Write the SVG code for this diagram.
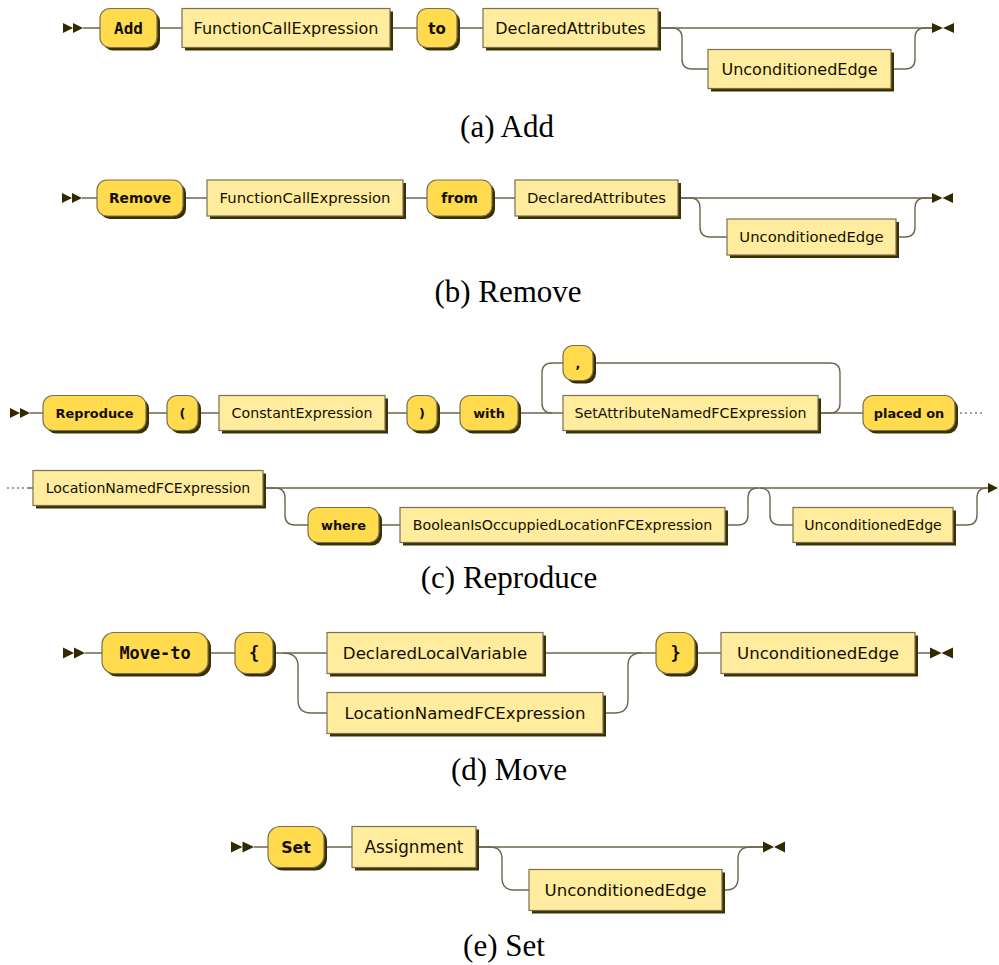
<svg xmlns="http://www.w3.org/2000/svg" width="999" height="965" viewBox="0 0 999 965">
<style>
.bg{fill:#ffffff}
.sh{fill:#3a3000}
.t rect.b{fill:#FFDB4D;stroke:#7a7052;stroke-width:1.2}
.n rect.b{fill:#FFEC9E;stroke:#7a7052;stroke-width:1.2}
text{fill:#141000;text-anchor:middle}
.n text{font-family:"DejaVu Sans",Verdana,sans-serif}
.t text{font-family:"DejaVu Sans",Verdana,sans-serif;font-weight:bold}
.t text.m{font-family:"DejaVu Sans Mono",monospace;font-weight:bold}
#connectors path{fill:none;stroke:#6e6650;stroke-width:1.4}
#connectors path.dot{stroke:#8a8266;stroke-dasharray:2 3}
#connectors polygon{fill:#332900}
.cap{font-family:"Liberation Serif","Times New Roman",serif;font-size:31px;fill:#000}
</style>
<rect class="bg" x="0" y="0" width="999" height="965"/>

<g id="connectors">
  <!-- (a) -->
  <polygon points="63,23 73,28 63,33"/><polygon points="73,23 83,28 73,33"/>
  <path d="M83,28 H100 M157,28 H182 M390,28 H417 M457,28 H483 M658,28 H932"/>
  <path d="M658,28 H672 Q682,28 682,38 V59 Q682,69 692,69 H708"/>
  <path d="M891,69 H905 Q915,69 915,59 V38 Q915,28 925,28 H932"/>
  <polygon points="932,23 943,28 932,33"/><polygon points="954,23 943,28 954,33"/>
  <!-- (b) -->
  <polygon points="62,193 72,198 62,203"/><polygon points="72,193 82,198 72,203"/>
  <path d="M82,198 H97 M183,198 H207 M403,198 H427 M492,198 H515 M678,198 H932"/>
  <path d="M678,198 H690 Q700,198 700,208 V227 Q700,237 710,237 H727"/>
  <path d="M896,237 H905 Q915,237 915,227 V208 Q915,198 925,198 H932"/>
  <polygon points="932,193 942.5,198 932,203"/><polygon points="953,193 942.5,198 953,203"/>
  <!-- (c) row 1 -->
  <polygon points="10,408 20,413 10,418"/><polygon points="20,408 30,413 20,418"/>
  <path d="M30,413 H43 M146,413 H167 M198,413 H219 M385,413 H407 M437,413 H460 M518,413 H563 M818,413 H863"/>
  <path d="M563,363 H552 Q542,363 542,373 V403 Q542,413 552,413"/>
  <path d="M818,413 H830 Q840,413 840,403 V373 Q840,363 830,363 H593"/>
  <path class="dot" d="M955,413 H982"/>
  <!-- (c) row 2 -->
  <path class="dot" d="M7,488 H28"/>
  <path d="M28,488 H33 M263,488 H989 M379,525 H400"/>
  <path d="M263,488 H275 Q285,488 285,498 V515 Q285,525 295,525 H308"/>
  <path d="M725,525 H738 Q748,525 748,515 V498 Q748,488 758,488"/>
  <path d="M760,488 Q770,488 770,498 V515 Q770,525 780,525 H793"/>
  <path d="M953,525 H967 Q977,525 977,515 V498 Q977,488 987,488"/>
  <polygon points="988,483 998,488 988,493"/>
  <!-- (d) -->
  <polygon points="63,647.5 74,653 63,658.5"/><polygon points="74,647.5 85,653 74,658.5"/>
  <path d="M85,653 H102 M208,653 H235 M273,653 H327 M543,653 H656 M695,653 H721 M915,653 H930"/>
  <path d="M283,653 Q298,653 298,666 V700 Q298,713 311,713 H327"/>
  <path d="M603,713 H615 Q628,713 628,700 V666 Q628,653 641,653"/>
  <polygon points="930,647.5 941.5,653 930,658.5"/><polygon points="953,647.5 941.5,653 953,658.5"/>
  <!-- (e) -->
  <polygon points="231,841.5 242.5,847 231,852.5"/><polygon points="242.5,841.5 254,847 242.5,852.5"/>
  <path d="M254,847 H268 M324,847 H352 M476,847 H763"/>
  <path d="M476,847 H490 Q502,847 502,859 V878 Q502,890 514,890 H529"/>
  <path d="M722,890 H726 Q738,890 738,878 V859 Q738,847 750,847 H763"/>
  <polygon points="763,841.5 774,847 763,852.5"/><polygon points="785,841.5 774,847 785,852.5"/>
</g>

<!-- (a) Add -->
<g id="a-add" class="t"><rect class="sh" x="103" y="11.5" width="57" height="39" rx="10"/><rect class="b" x="100" y="8.5" width="57" height="39" rx="10"/><text class="m" x="128.5" y="33.5" font-size="16">Add</text></g>
<g id="a-fce" class="n"><rect class="sh" x="185" y="11.5" width="208" height="39"/><rect class="b" x="182" y="8.5" width="208" height="39"/><text x="286" y="33.5" font-size="16">FunctionCallExpression</text></g>
<g id="a-to" class="t"><rect class="sh" x="420" y="11.5" width="40" height="39" rx="10"/><rect class="b" x="417" y="8.5" width="40" height="39" rx="10"/><text x="437" y="33.5" font-size="15">to</text></g>
<g id="a-da" class="n"><rect class="sh" x="486" y="11.5" width="175" height="39"/><rect class="b" x="483" y="8.5" width="175" height="39"/><text x="570.5" y="33.5" font-size="16">DeclaredAttributes</text></g>
<g id="a-ue" class="n"><rect class="sh" x="711" y="52.5" width="183" height="39"/><rect class="b" x="708" y="49.5" width="183" height="39"/><text x="799.5" y="74.5" font-size="16">UnconditionedEdge</text></g>
<text class="cap" x="507" y="137">(a) Add</text>

<!-- (b) Remove -->
<g id="b-remove" class="t"><rect class="sh" x="100" y="183" width="86" height="36" rx="10"/><rect class="b" x="97" y="180" width="86" height="36" rx="10"/><text x="140" y="203" font-size="13.8">Remove</text></g>
<g id="b-fce" class="n"><rect class="sh" x="210" y="183" width="196" height="36"/><rect class="b" x="207" y="180" width="196" height="36"/><text x="305" y="203" font-size="14.8">FunctionCallExpression</text></g>
<g id="b-from" class="t"><rect class="sh" x="430" y="183" width="65" height="36" rx="10"/><rect class="b" x="427" y="180" width="65" height="36" rx="10"/><text x="459.5" y="203" font-size="13.8">from</text></g>
<g id="b-da" class="n"><rect class="sh" x="518" y="183" width="163" height="36"/><rect class="b" x="515" y="180" width="163" height="36"/><text x="596.5" y="203" font-size="14.8">DeclaredAttributes</text></g>
<g id="b-ue" class="n"><rect class="sh" x="730" y="222" width="169" height="36"/><rect class="b" x="727" y="219" width="169" height="36"/><text x="811.5" y="242" font-size="14.8">UnconditionedEdge</text></g>
<text class="cap" x="508" y="302">(b) Remove</text>

<!-- (c) Reproduce -->
<g id="c-reproduce" class="t"><rect class="sh" x="46" y="398.5" width="103" height="35" rx="10"/><rect class="b" x="43" y="395.5" width="103" height="35" rx="10"/><text x="94.5" y="418" font-size="12.9">Reproduce</text></g>
<g id="c-lparen" class="t"><rect class="sh" x="170" y="398.5" width="31" height="35" rx="10"/><rect class="b" x="167" y="395.5" width="31" height="35" rx="10"/><text x="182.5" y="418" font-size="12.9">(</text></g>
<g id="c-ce" class="n"><rect class="sh" x="222" y="398.5" width="166" height="35"/><rect class="b" x="219" y="395.5" width="166" height="35"/><text x="302" y="418" font-size="14.2">ConstantExpression</text></g>
<g id="c-rparen" class="t"><rect class="sh" x="410" y="398.5" width="30" height="35" rx="10"/><rect class="b" x="407" y="395.5" width="30" height="35" rx="10"/><text x="422" y="418" font-size="12.9">)</text></g>
<g id="c-with" class="t"><rect class="sh" x="463" y="398.5" width="58" height="35" rx="10"/><rect class="b" x="460" y="395.5" width="58" height="35" rx="10"/><text x="489" y="418" font-size="12.9">with</text></g>
<g id="c-comma" class="t"><rect class="sh" x="566" y="348.5" width="30" height="35" rx="10"/><rect class="b" x="563" y="345.5" width="30" height="35" rx="10"/><text x="578" y="368" font-size="12.9">,</text></g>
<g id="c-sa" class="n"><rect class="sh" x="566" y="398.5" width="255" height="35"/><rect class="b" x="563" y="395.5" width="255" height="35"/><text x="690.5" y="418" font-size="14.2">SetAttributeNamedFCExpression</text></g>
<g id="c-placed" class="t"><rect class="sh" x="866" y="398.5" width="92" height="35" rx="10"/><rect class="b" x="863" y="395.5" width="92" height="35" rx="10"/><text x="909" y="418" font-size="12.9">placed on</text></g>
<g id="c-loc" class="n"><rect class="sh" x="36" y="473.5" width="230" height="35"/><rect class="b" x="33" y="470.5" width="230" height="35"/><text x="148" y="493" font-size="14.1">LocationNamedFCExpression</text></g>
<g id="c-where" class="t"><rect class="sh" x="311" y="510.5" width="71" height="35" rx="10"/><rect class="b" x="308" y="507.5" width="71" height="35" rx="10"/><text x="343.5" y="530" font-size="12.9">where</text></g>
<g id="c-bool" class="n"><rect class="sh" x="403" y="510.5" width="325" height="35"/><rect class="b" x="400" y="507.5" width="325" height="35"/><text x="562.5" y="530" font-size="14.2">BooleanIsOccuppiedLocationFCExpression</text></g>
<g id="c-ue" class="n"><rect class="sh" x="796" y="510.5" width="160" height="35"/><rect class="b" x="793" y="507.5" width="160" height="35"/><text x="873" y="530" font-size="14.1">UnconditionedEdge</text></g>
<text class="cap" x="509" y="588">(c) Reproduce</text>

<!-- (d) Move -->
<g id="d-moveto" class="t"><rect class="sh" x="105" y="635.5" width="106" height="41" rx="12"/><rect class="b" x="102" y="632.5" width="106" height="41" rx="12"/><text class="m" x="155" y="659" font-size="16.9">Move-to</text></g>
<g id="d-lbrace" class="t"><rect class="sh" x="238" y="635.5" width="38" height="41" rx="12"/><rect class="b" x="235" y="632.5" width="38" height="41" rx="12"/><text class="m" x="254" y="659" font-size="17">{</text></g>
<g id="d-dlv" class="n"><rect class="sh" x="330" y="635.5" width="216" height="41"/><rect class="b" x="327" y="632.5" width="216" height="41"/><text x="435" y="659" font-size="16.6">DeclaredLocalVariable</text></g>
<g id="d-loc" class="n"><rect class="sh" x="330" y="695.5" width="276" height="41"/><rect class="b" x="327" y="692.5" width="276" height="41"/><text x="465" y="719" font-size="16.6">LocationNamedFCExpression</text></g>
<g id="d-rbrace" class="t"><rect class="sh" x="659" y="635.5" width="39" height="41" rx="12"/><rect class="b" x="656" y="632.5" width="39" height="41" rx="12"/><text class="m" x="675.5" y="659" font-size="17">}</text></g>
<g id="d-ue" class="n"><rect class="sh" x="724" y="635.5" width="194" height="41"/><rect class="b" x="721" y="632.5" width="194" height="41"/><text x="818" y="659" font-size="16.6">UnconditionedEdge</text></g>
<text class="cap" x="509" y="780">(d) Move</text>

<!-- (e) Set -->
<g id="e-set" class="t"><rect class="sh" x="271" y="829.5" width="56" height="41" rx="12"/><rect class="b" x="268" y="826.5" width="56" height="41" rx="12"/><text x="296" y="853" font-size="15.8">Set</text></g>
<g id="e-assign" class="n"><rect class="sh" x="355" y="829.5" width="124" height="41"/><rect class="b" x="352" y="826.5" width="124" height="41"/><text x="414" y="853" font-size="16.8">Assignment</text></g>
<g id="e-ue" class="n"><rect class="sh" x="532" y="872.5" width="193" height="41"/><rect class="b" x="529" y="869.5" width="193" height="41"/><text x="625.5" y="896" font-size="16.6">UnconditionedEdge</text></g>
<text class="cap" x="504" y="956">(e) Set</text>
</svg>
